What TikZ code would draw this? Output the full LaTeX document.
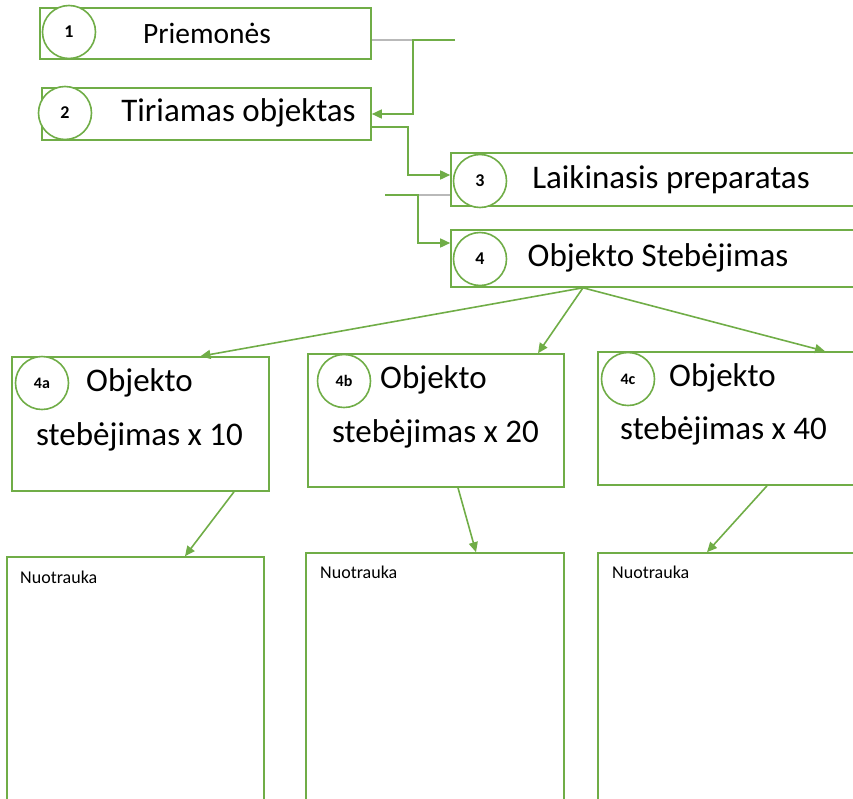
\documentclass[tikz,border=0pt]{standalone}
\usepackage{fontspec}
\setmainfont{Carlito}
\usepackage{xcolor}
\usetikzlibrary{calc,arrows.meta}
\definecolor{grn}{RGB}{112,173,71}

\begin{document}
\begin{tikzpicture}[x=1pt, y=-1pt]
\tikzset{
  box/.style={draw=grn, line width=1.6pt, minimum width=#1, inner sep=0pt},
  num/.style={circle, draw=grn, fill=white, line width=1.6pt, minimum size=53pt, inner sep=0pt, font=\bfseries\fontsize{18}{20}\selectfont},
  big/.style={inner sep=0pt, font=\fontsize{33}{40}\selectfont},
  small/.style={inner sep=0pt, anchor=west, font=\fontsize{18}{22}\selectfont},
  link/.style={draw=grn, line width=1.6pt, -{Triangle[length=10pt,width=9pt]}},
  stub/.style={draw=gray!55, line width=1.6pt},
}
\useasboundingbox (0,0) rectangle (853,798);
\clip (0,0) rectangle (853,798);
% steps
\node[box=331pt, minimum height=51pt] (b1) at (205.5,33.5) {};
\node[box=329pt, minimum height=52pt] (b2) at (206.5,114) {};
\node[box=449pt, minimum height=53pt] (b3) at (675.5,179.5) {};
\node[box=449pt, minimum height=57pt] (b4) at (675.5,258.5) {};
\node[num] (n1) at (69,32) {1};
\node[num] (n2) at (65,113) {2};
\node[num] (n3) at (480,181) {3};
\node[num] (n4) at (480,259) {4};
\node[big, font=\fontsize{29.5}{36}\selectfont] (t1) at (207,33) {Priemonės};
\node[big] (t2) at (238.5,113) {Tiriamas objektas};
\node[big] (t3) at (671,180) {Laikinasis preparatas};
\node[big] (t4) at (658,258) {Objekto Stebėjimas};
% magnifications
\node[box=257pt, minimum height=134pt] (ba) at (140.5,424) {};
\node[box=256pt, minimum height=133pt] (bb) at (436,420.5) {};
\node[box=262pt, minimum height=133pt] (bc) at (729,418.5) {};
\node[num, font=\bfseries\fontsize{16}{18}\selectfont] (na) at (42,383) {4a};
\node[num, font=\bfseries\fontsize{16}{18}\selectfont] (nb) at (344,381) {4b};
\node[num, font=\bfseries\fontsize{16}{18}\selectfont] (nc) at (628,379) {4c};
\node[big, anchor=west] (ta1) at (86,383) {Objekto};
\node[big, anchor=west] (ta2) at (36,437) {stebėjimas x 10};
\node[big, anchor=west] (tb1) at (380,380) {Objekto};
\node[big, anchor=west] (tb2) at (332,434) {stebėjimas x 20};
\node[big, anchor=west] (tc1) at (669,378) {Objekto};
\node[big, anchor=west] (tc2) at (620,431) {stebėjimas x 40};
% photos
\node[box=257pt, minimum height=253pt] (pa) at (135.5,683.5) {};
\node[box=258pt, minimum height=257pt] (pb) at (435,681.5) {};
\node[box=262pt, minimum height=257pt] (pc) at (729,681.5) {};
\node[small] (pta) at (20,577) {Nuotrauka};
\node[small] (ptb) at (320,572) {Nuotrauka};
\node[small] (ptc) at (612,572) {Nuotrauka};
% connectors
\coordinate (e1) at (455,40);
\coordinate (e2) at (385,195);
\draw[stub] ([yshift=-6.5pt]b1.east) -- (440,40);
\draw[link] (e1) -- (413,40) |- (b2.east);
\draw[link] ([yshift=-13pt]b2.east) -- ++(36,0) |- ([yshift=4.5pt]b3.west);
\draw[stub] (e2) -- ([yshift=-15.5pt]b3.west);
\draw[link] (e2) -- (418,195) |- ([yshift=15.5pt]b4.west);
\coordinate (fan) at ([xshift=-92.5pt]b4.south);
\draw[link] (fan) -- ([xshift=60pt]ba.north);
\draw[link] (fan) -- ([xshift=102pt]bb.north);
\draw[link] (fan) -- ([xshift=96pt]bc.north);
\draw[link] ([xshift=93.5pt]ba.south) -- ([xshift=49.5pt]pa.north);
\draw[link] ([xshift=22pt]bb.south) -- ([xshift=41pt]pb.north);
\draw[link] ([xshift=38pt]bc.south) -- ([xshift=-22pt]pc.north);
\end{tikzpicture}
\end{document}
